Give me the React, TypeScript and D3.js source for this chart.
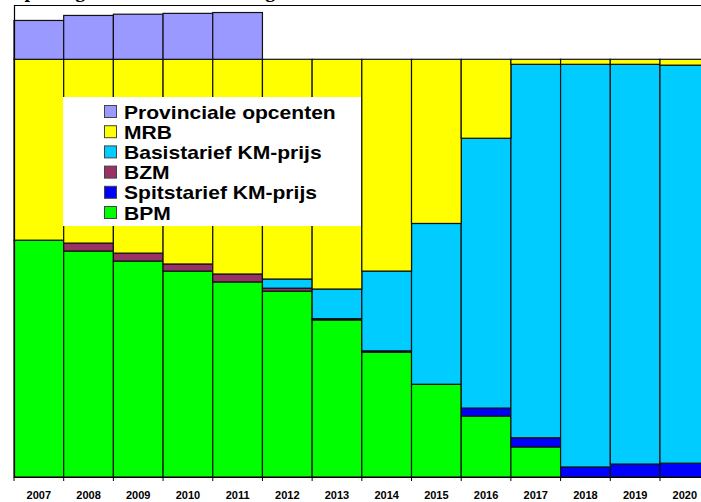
import React, { useEffect, useRef } from 'react';
import * as d3 from 'd3';

// years along the bottom
const years = ['2007', '2008', '2009', '2010', '2011', '2012', '2013', '2014', '2015', '2016', '2017', '2018', '2019', '2020'];

// share per year (2007 total without opcenten = 100)
const bpm = [56.7, 54.1, 51.7, 49.3, 46.7, 44.5, 37.6, 29.9, 22.2, 14.6, 7.2, 0, 0, 0];
const spits = [0, 0, 0, 0, 0, 0, 0, 0, 0, 1.9, 2.2, 2.4, 3.1, 3.3];
const bzm = [0, 1.9, 1.9, 1.7, 1.9, 0.7, 0.3, 0.3, 0, 0, 0, 0, 0, 0];
const basis = [0, 0, 0, 0, 0, 2.2, 7.1, 19.1, 38.5, 64.6, 89.4, 96.4, 95.7, 95.3];
const mrb = [43.3, 44.0, 46.4, 49.0, 51.4, 52.6, 55.0, 50.7, 39.3, 18.9, 1.2, 1.2, 1.2, 1.4];
const prov = [9.3, 10.5, 10.8, 11.0, 11.2, 0, 0, 0, 0, 0, 0, 0, 0, 0];

// stack order bottom -> top
const keys = ['BPM', 'Spitstarief KM-prijs', 'BZM', 'Basistarief KM-prijs', 'MRB', 'Provinciale opcenten'];
const seriesValues = [bpm, spits, bzm, basis, mrb, prov];
const colors = ['#00ff00', '#0000ff', '#993366', '#00ccff', '#ffff00', '#9999ff'];

const App = () => {
  const ref = useRef<SVGSVGElement>(null);

  useEffect(() => {
    const svg = d3.select(ref.current);
    svg.selectAll('*').remove();

    const width = 701;
    const left = 14, top = 5, bottom = 477;

    const table = years.map((y, i) => {
      const row: any = { year: y };
      keys.forEach((k, j) => { row[k] = seriesValues[j][i]; });
      return row;
    });

    const layers = d3.stack().keys(keys)(table);

    const x = d3.scaleBand().domain(years).range([left, left + 49.69 * years.length]).padding(0);
    const y = d3.scaleLinear().domain([0, 113]).range([bottom, top]);

    // title sits above the visible area, only descenders peek in
    svg.append('text')
      .attr('x', 9)
      .attr('y', -3)
      .attr('font-family', '"Liberation Serif", "Times New Roman", serif')
      .attr('font-weight', 'bold')
      .attr('font-size', 20)
      .text('Opbrengsten van autobelastingen');

    const g = svg.append('g');
    layers.forEach((layer, j) => {
      g.selectAll('.s' + j)
        .data(layer.filter(d => d[1] - d[0] > 0))
        .enter().append('rect')
        .attr('x', (d: any) => x(d.data.year))
        .attr('y', d => y(d[1]))
        .attr('width', x.bandwidth())
        .attr('height', d => y(d[0]) - y(d[1]))
        .attr('fill', colors[j])
        .attr('stroke', '#111')
        .attr('stroke-width', 1.2);
    });

    // frame
    svg.append('line').attr('x1', left).attr('x2', width).attr('y1', top + 0.5).attr('y2', top + 0.5)
      .attr('stroke', '#000').attr('stroke-width', 1.2);
    svg.append('line').attr('x1', left + 0.5).attr('x2', left + 0.5).attr('y1', top).attr('y2', bottom)
      .attr('stroke', '#000').attr('stroke-width', 1.2);

    // x axis
    const axis = svg.append('g')
      .attr('transform', 'translate(0,' + bottom + ')')
      .call(d3.axisBottom(x).tickSize(0).tickPadding(14));
    axis.select('.domain').attr('stroke', '#000');
    axis.selectAll('text')
      .attr('font-family', 'Arial, "Liberation Sans", sans-serif')
      .attr('font-weight', 'bold')
      .attr('font-size', 11)
      .attr('fill', '#000');
    const bounds = years.map(yr => x(yr) as number).concat([left + 49.69 * years.length]);
    axis.selectAll('.tk')
      .data(bounds)
      .enter().append('line')
      .attr('x1', d => d).attr('x2', d => d)
      .attr('y1', 0).attr('y2', 4)
      .attr('stroke', '#000');

    // legend
    const lg = svg.append('g');
    lg.append('rect').attr('x', 63).attr('y', 97).attr('width', 298).attr('height', 129).attr('fill', '#fff');
    const legendKeys = keys.slice().reverse();
    const legendColors = colors.slice().reverse();
    legendKeys.forEach((k, i) => {
      const cy = 112 + i * 20.2;
      lg.append('rect')
        .attr('x', 104.5).attr('y', cy - 6.5)
        .attr('width', 12).attr('height', 12)
        .attr('fill', legendColors[i])
        .attr('stroke', '#444').attr('stroke-width', 1);
      lg.append('text')
        .attr('transform', 'translate(124,' + (cy + 6.5) + ') scale(1.17,1)')
        .attr('font-family', 'Arial, "Liberation Sans", sans-serif')
        .attr('font-weight', 'bold')
        .attr('font-size', 18)
        .attr('fill', '#000')
        .text(k);
    });
  }, []);

  return (
    <svg ref={ref} width={701} height={502}
      style={{ position: 'absolute', left: 0, top: 0, background: '#fff' }} />
  );
};

export default App;
